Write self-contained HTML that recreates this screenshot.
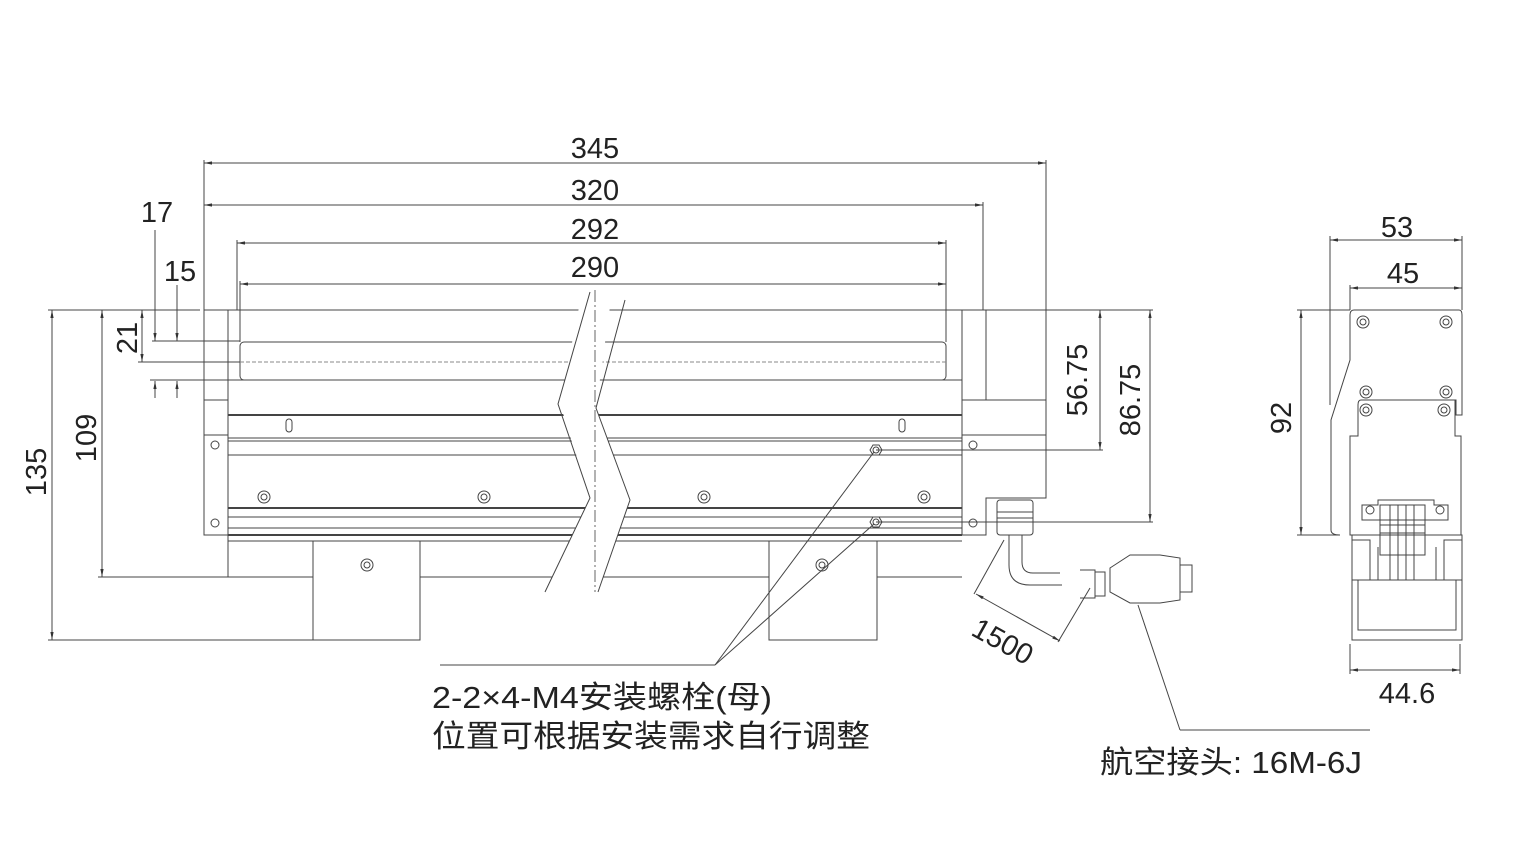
<!DOCTYPE html>
<html><head><meta charset="utf-8"><style>
html,body{margin:0;padding:0;background:#fff;}
svg{display:block;}
text{font-family:"Liberation Sans","Noto Sans CJK SC",sans-serif;fill:#222;}
</style></head><body>
<svg width="1517" height="853" viewBox="0 0 1517 853" xmlns="http://www.w3.org/2000/svg">
<defs>
<marker id="a" viewBox="0 0 10 10" refX="10" refY="5" markerWidth="8" markerHeight="8" orient="auto-start-reverse"><path d="M0,3 L10,5 L0,7 z" fill="#333"/></marker>
</defs>
<g stroke="#444" stroke-width="1" fill="none">
<line x1="204" y1="163" x2="1046" y2="163" marker-start="url(#a)" marker-end="url(#a)"/>
<line x1="204" y1="205" x2="983" y2="205" marker-start="url(#a)" marker-end="url(#a)"/>
<line x1="237" y1="243" x2="946" y2="243" marker-start="url(#a)" marker-end="url(#a)"/>
<line x1="240" y1="284" x2="946" y2="284" marker-start="url(#a)" marker-end="url(#a)"/>
<line x1="204" y1="160" x2="204" y2="400"/>
<line x1="1046" y1="160" x2="1046" y2="400"/>
<line x1="983" y1="202" x2="983" y2="310"/>
<line x1="237" y1="240" x2="237" y2="310"/>
<line x1="240" y1="281" x2="240" y2="342"/>
<line x1="946" y1="240" x2="946" y2="342"/>
<line x1="155" y1="230" x2="155" y2="341" marker-end="url(#a)"/>
<line x1="177" y1="285" x2="177" y2="341" marker-end="url(#a)"/>
<line x1="155" y1="398" x2="155" y2="381" marker-end="url(#a)"/>
<line x1="177" y1="398" x2="177" y2="381" marker-end="url(#a)"/>
<line x1="152" y1="341" x2="240" y2="341"/>
<line x1="150" y1="380" x2="240" y2="380"/>
<line x1="142" y1="310" x2="142" y2="362" marker-start="url(#a)" marker-end="url(#a)"/>
<line x1="138" y1="362" x2="240" y2="362"/>
<line x1="52" y1="310" x2="52" y2="640" marker-start="url(#a)" marker-end="url(#a)"/>
<line x1="48" y1="310" x2="200" y2="310"/>
<line x1="48" y1="640" x2="313" y2="640"/>
<line x1="102" y1="310" x2="102" y2="577" marker-start="url(#a)" marker-end="url(#a)"/>
<line x1="98" y1="577" x2="228" y2="577"/>
<line x1="204" y1="310" x2="1046" y2="310"/>
<line x1="228" y1="310" x2="228" y2="577"/>
<line x1="962" y1="310" x2="962" y2="535"/>
<line x1="986" y1="310" x2="986" y2="400"/>
<rect x="240" y="342" width="706" height="38" rx="4"/>
<line x1="240" y1="362" x2="946" y2="362" stroke-dasharray="4 2" stroke="#888"/>
<line x1="228" y1="380" x2="962" y2="380"/>
<line x1="228" y1="415" x2="962" y2="415" stroke-width="2"/>
<line x1="228" y1="438" x2="962" y2="438"/>
<line x1="228" y1="441" x2="962" y2="441"/>
<line x1="228" y1="455" x2="962" y2="455"/>
<line x1="228" y1="508" x2="962" y2="508" stroke-width="2"/>
<line x1="228" y1="517" x2="962" y2="517"/>
<line x1="228" y1="528" x2="962" y2="528"/>
<line x1="228" y1="535" x2="962" y2="535" stroke-width="2"/>
<line x1="228" y1="541" x2="962" y2="541"/>
<line x1="228" y1="577" x2="313" y2="577"/>
<line x1="420" y1="577" x2="769" y2="577"/>
<line x1="877" y1="577" x2="962" y2="577"/>
<rect x="204" y="400" width="24" height="135"/>
<line x1="204" y1="435" x2="228" y2="435"/>
<circle cx="215" cy="445" r="4"/><circle cx="215" cy="523" r="4"/>
<path d="M962,400 H1046 V498 H986 V535 H962"/>
<line x1="962" y1="435" x2="1046" y2="435"/>
<circle cx="973" cy="445" r="4"/><circle cx="973" cy="523" r="4"/>
<rect x="313" y="541" width="107" height="99"/>
<rect x="769" y="541" width="108" height="99"/>
<circle cx="367" cy="565" r="6"/><circle cx="367" cy="565" r="3"/>
<circle cx="822" cy="565" r="6"/><circle cx="822" cy="565" r="3"/>
<g>
<circle cx="264" cy="497" r="6"/><circle cx="264" cy="497" r="3"/>
<circle cx="484" cy="497" r="6"/><circle cx="484" cy="497" r="3"/>
<circle cx="704" cy="497" r="6"/><circle cx="704" cy="497" r="3"/>
<circle cx="924" cy="497" r="6"/><circle cx="924" cy="497" r="3"/>
<rect x="286" y="419" width="6" height="13" rx="3"/>
<rect x="899" y="419" width="6" height="13" rx="3"/>
<path d="M870,450 l3,-5 h6 l3,5 l-3,5 h-6z"/><circle cx="876" cy="450" r="3"/>
<path d="M870,522 l3,-5 h6 l3,5 l-3,5 h-6z"/><circle cx="876" cy="522" r="3"/>
</g>
<line x1="876" y1="450" x2="1103" y2="450"/>
<line x1="876" y1="522" x2="1153" y2="522"/>
<line x1="1046" y1="310" x2="1153" y2="310"/>
<line x1="1100" y1="310" x2="1100" y2="450" marker-start="url(#a)" marker-end="url(#a)"/>
<line x1="1150" y1="310" x2="1150" y2="522" marker-start="url(#a)" marker-end="url(#a)"/>
<line x1="874" y1="452" x2="715" y2="665"/>
<line x1="874" y1="524" x2="715" y2="665"/>
<line x1="440" y1="665" x2="715" y2="665"/>
<rect x="997" y="500" width="36" height="35" rx="3"/>
<line x1="997" y1="512" x2="1033" y2="512"/><line x1="997" y1="518" x2="1033" y2="518"/>
<path d="M1009,535 V565 Q1009,585 1030,585 H1062 M1022,535 V562 Q1022,573 1033,573 H1060"/>
<path d="M1080,570 H1095 V598 H1080 M1095,572 H1105 V596 H1095 M1110,568 L1130,555 H1160 L1180,558 V600 L1160,603 H1130 L1110,592 Z M1180,565 H1192 V592 H1180"/>
<line x1="1004" y1="540" x2="974" y2="594"/>
<line x1="1090" y1="588" x2="1058" y2="642"/>
<line x1="976" y1="594" x2="1060" y2="641" marker-start="url(#a)" marker-end="url(#a)"/>
<line x1="1138" y1="605" x2="1180" y2="730"/>
<line x1="1180" y1="730" x2="1370" y2="730"/>
<polygon points="582,292 612,292 596,408 630,500 598,592 545,592 590,498 560,404" fill="#fff" stroke="none"/>
<polyline points="590,292 558,404 590,498 545,592"/>
<polyline points="625,300 596,408 630,500 598,592"/>
<line x1="595" y1="290" x2="595" y2="592" stroke-dasharray="12 3 2 3" stroke="#666"/>
<line x1="1330" y1="240" x2="1462" y2="240" marker-start="url(#a)" marker-end="url(#a)"/>
<line x1="1350" y1="288" x2="1462" y2="288" marker-start="url(#a)" marker-end="url(#a)"/>
<line x1="1330" y1="236" x2="1330" y2="405"/>
<line x1="1462" y1="236" x2="1462" y2="310"/>
<line x1="1350" y1="285" x2="1350" y2="310"/>
<line x1="1301" y1="310" x2="1301" y2="535" marker-start="url(#a)" marker-end="url(#a)"/>
<line x1="1297" y1="310" x2="1350" y2="310"/>
<line x1="1297" y1="535" x2="1340" y2="535"/>
<path d="M1354,310 H1459 Q1462,310 1462,315 V415 H1456 V400 H1361 Q1358,400 1358,405 V436 H1350 V535 H1461 V436 H1455 V400"/>
<path d="M1354,310 Q1350,310 1350,315 V360 L1331,420 V530 Q1331,535 1340,535"/>
<circle cx="1363" cy="322" r="6"/><circle cx="1363" cy="322" r="3"/>
<circle cx="1446" cy="322" r="6"/><circle cx="1446" cy="322" r="3"/>
<circle cx="1366" cy="392" r="6"/><circle cx="1366" cy="392" r="3"/>
<circle cx="1446" cy="392" r="6"/><circle cx="1446" cy="392" r="3"/>
<circle cx="1366" cy="410" r="6"/><circle cx="1366" cy="410" r="3"/>
<circle cx="1444" cy="410" r="6"/><circle cx="1444" cy="410" r="3"/>
<path d="M1362,505 H1378 V500 H1434 V505 H1448 V520 H1362 Z"/>
<circle cx="1370" cy="510" r="4"/><circle cx="1440" cy="510" r="4"/>
<rect x="1380" y="505" width="45" height="50"/>
<line x1="1380" y1="525" x2="1425" y2="525"/><line x1="1380" y1="533" x2="1425" y2="533"/>
<line x1="1390" y1="505" x2="1390" y2="580"/><line x1="1398" y1="505" x2="1398" y2="580"/><line x1="1406" y1="505" x2="1406" y2="580"/><line x1="1414" y1="505" x2="1414" y2="580"/>
<rect x="1352" y="535" width="110" height="105"/>
<path d="M1352,540 H1370 V580 H1378 V547 M1462,540 H1444 V580 H1436 V547 M1352,580 H1462 M1358,580 V630 H1456 V580"/>
<line x1="1350" y1="644" x2="1350" y2="674"/>
<line x1="1460" y1="644" x2="1460" y2="674"/>
<line x1="1350" y1="670" x2="1460" y2="670" marker-start="url(#a)" marker-end="url(#a)"/>
</g>
<g font-size="29">
<text x="595" y="158" text-anchor="middle">345</text>
<text x="595" y="200" text-anchor="middle">320</text>
<text x="595" y="239" text-anchor="middle">292</text>
<text x="595" y="277" text-anchor="middle">290</text>
<text x="157" y="222" text-anchor="middle">17</text>
<text x="180" y="281" text-anchor="middle">15</text>
<text transform="translate(137,338) rotate(-90)" text-anchor="middle">21</text>
<text transform="translate(46,472) rotate(-90)" text-anchor="middle">135</text>
<text transform="translate(96,438) rotate(-90)" text-anchor="middle">109</text>
<text transform="translate(1087,380) rotate(-90)" text-anchor="middle">56.75</text>
<text transform="translate(1140,400) rotate(-90)" text-anchor="middle">86.75</text>
<text transform="translate(998,650) rotate(29)" text-anchor="middle">1500</text>
<text x="1397" y="237" text-anchor="middle">53</text>
<text x="1403" y="283" text-anchor="middle">45</text>
<text transform="translate(1291,418) rotate(-90)" text-anchor="middle">92</text>
<text x="1407" y="703" text-anchor="middle">44.6</text>
</g>
<g font-size="31">
<text x="432" y="708" textLength="340" lengthAdjust="spacingAndGlyphs">2-2×4-M4安装螺栓(母)</text>
<text x="432" y="747" textLength="438" lengthAdjust="spacingAndGlyphs">位置可根据安装需求自行调整</text>
<text x="1100" y="773" textLength="262" lengthAdjust="spacingAndGlyphs">航空接头: 16M-6J</text>
</g>
</svg>
</body></html>
